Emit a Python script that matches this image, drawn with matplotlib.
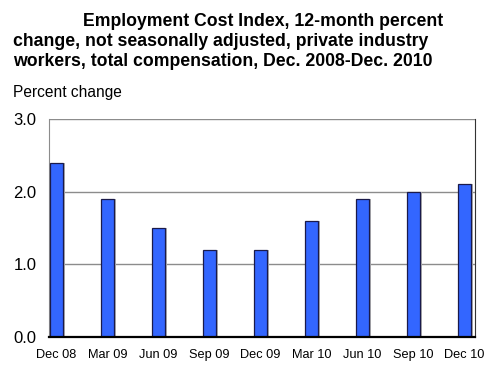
import numpy as np
import matplotlib.pyplot as plt

#%% Data
kvartaler = ["Dec 08", "Mar 09", "Jun 09", "Sep 09", "Dec 09", "Mar 10", "Jun 10", "Sep 10", "Dec 10"]
endring = [2.4, 1.9, 1.5, 1.2, 1.2, 1.6, 1.9, 2.0, 2.1]  # [%]
y_ticks = [0.0, 1.0, 2.0, 3.0]

#%% Plotting
plt.rcParams['font.family'] = ['Liberation Sans', 'DejaVu Sans']

fig = plt.figure(figsize=(5, 3.78), dpi=100)
ax = fig.add_axes([0.098, 0.1085, 0.852, 0.5767])

x = np.arange(len(kvartaler))
bredde = 0.255

# skygge bak stolpene
ax.bar(x + 0.04, endring, width=bredde, color='#b0b0b0', zorder=2)
ax.bar(x, endring, width=bredde, color='#3366ff', edgecolor='#1a1a4a', linewidth=0.9, zorder=3)

ax.set_xlim(-0.147, 8.206)
ax.set_ylim(0, 3.0)
ax.set_yticks(y_ticks)
ax.set_yticklabels([f"{v:.1f}" for v in y_ticks], fontsize=12)
ax.set_xticks(x)
ax.set_xticklabels(kvartaler, fontsize=9.2)
ax.tick_params(axis='both', length=0, colors='black')
ax.tick_params(axis='y', pad=9)
ax.tick_params(axis='x', pad=9)

ax.grid(axis='y', color='#8c8c8c', linewidth=1.0, zorder=1)
ax.spines['top'].set_visible(False)
ax.spines['left'].set_color('#8c8c8c')
ax.spines['right'].set_color('#333333')
ax.spines['bottom'].set_color('black')
ax.spines['bottom'].set_linewidth(1.6)
ax.spines['bottom'].set_zorder(4)

# tittel, første linje er rykket inn
tittel = ["Employment Cost Index, 12-month percent",
          "change, not seasonally adjusted, private industry",
          "workers, total compensation, Dec. 2008-Dec. 2010"]
fig.text(83/500, 1 - 22/378, tittel[0], fontsize=12.7, fontweight='bold', va='center', ha='left')
fig.text(13/500, 1 - 42/378, tittel[1], fontsize=12.7, fontweight='bold', va='center', ha='left')
fig.text(13/500, 1 - 62/378, tittel[2], fontsize=12.7, fontweight='bold', va='center', ha='left')
fig.text(13/500, 1 - 92/378, "Percent change", fontsize=11.2, va='center', ha='left')

fig.savefig("out.png", dpi=100)
